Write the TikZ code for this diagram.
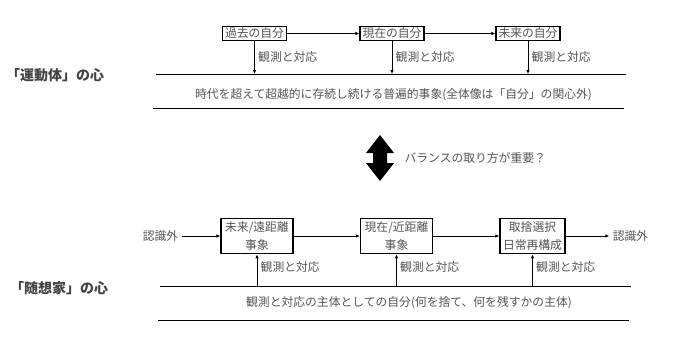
\documentclass[tikz,border=0pt]{standalone}
\usepackage{fontspec}
\setmainfont{Noto Sans CJK JP}
\usetikzlibrary{arrows.meta}
\definecolor{txtgray}{HTML}{555555}
\definecolor{headgray}{HTML}{444444}

\begin{document}
\begin{tikzpicture}[x=1pt, y=-1pt,
  stage/.style={rectangle, draw=black, line width=1.1pt, inner xsep=2.5pt, inner ysep=1pt,
                minimum height=14pt, text=txtgray, font=\fontsize{11.8}{14}\selectfont},
  event/.style={rectangle, draw=black, line width=1.1pt, inner xsep=3pt, minimum height=35pt,
                align=center, text=txtgray, font=\fontsize{11.8}{18}\selectfont},
  conn/.style={-{Latex[length=4pt,width=3.5pt]}, line width=0.8pt},
  lbl/.style={font=\fontsize{11.8}{14}\selectfont, text=txtgray},
  mind/.style={font=\fontsize{14}{16}\selectfont\bfseries, text=headgray},
  base/.style={line width=1pt}
]
\useasboundingbox (0,0) rectangle (677,341);

% Left titles
\node[mind] (motion) at (55,75)  {「運動体」の心};
\node[mind] (essay)  at (59,288) {「随想家」の心};

% Self over time (top row)
\node[stage] (past)   at (254.5,33.5) {過去の自分};
\node[stage] (now)    at (392,33.5)   {現在の自分};
\node[stage] (future) at (528,33.5)   {未来の自分};

\draw[conn] (past) -- (now);
\draw[conn] (now) -- (future);

% Universal phenomenon band
\coordinate (tl) at (156,74);
\coordinate (tr) at (626,74);
\draw[base] (tl) -- (tr);
\draw[base] (153,108.3) -- (624,108.3);
\node[lbl] (univ) at (393.5,95) {時代を超えて超越的に存続し続ける普遍的事象(全体像は「自分」の関心外)};

% Self -> band
\draw[conn] (past) -- (past |- tl) node[midway, right, lbl] {観測と対応};
\draw[conn] (now) -- (now |- tl) node[midway, right, lbl] {観測と対応};
\draw[conn] (future) -- (future |- tl) node[midway, right, lbl] {観測と対応};

% Balance
\fill (380,135) -- (394,153) -- (387,153) -- (387,163) -- (394,163) -- (380,181)
  -- (366,163) -- (373,163) -- (373,153) -- (366,153) -- cycle;
\node[lbl, anchor=west] (bal) at (401,158) {バランスの取り方が重要？};

% Events (bottom row)
\node[lbl]   (inL)  at (160.5,236) {認識外};
\node[event, minimum width=72pt] (far)  at (257,236)   {未来/遠距離\\事象};
\node[event, minimum width=72pt] (near) at (396.5,236) {現在/近距離\\事象};
\node[event, minimum width=64pt] (pick) at (532.5,236) {取捨選択\\日常再構成};
\node[lbl]   (outR) at (630.5,236) {認識外};

\draw[conn] (inL) -- (far);
\draw[conn] (far) -- (near);
\draw[conn] (near) -- (pick);
\draw[conn] (pick) -- (outR);

% Subject band
\coordinate (bl) at (160,286);
\coordinate (br) at (631,286);
\draw[base] (bl) -- (br);
\draw[base] (158,320) -- (629,320);
\node[lbl] (subj) at (409,302.7) {観測と対応の主体としての自分(何を捨て、何を残すかの主体)};

% Band -> events
\draw[conn] (far |- bl) -- (far) node[pos=0.6, right, lbl] {観測と対応};
\draw[conn] (near |- bl) -- (near) node[pos=0.6, right, lbl] {観測と対応};
\draw[conn] (pick |- bl) -- (pick) node[pos=0.6, right, lbl] {観測と対応};
\end{tikzpicture}
\end{document}
